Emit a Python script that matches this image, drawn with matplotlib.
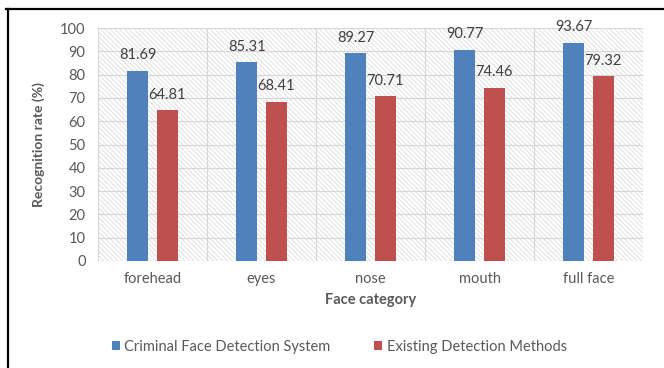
import matplotlib
matplotlib.use("Agg")
import matplotlib.pyplot as plt
from matplotlib.patches import Rectangle
from matplotlib.lines import Line2D
import numpy as np

categories = ["forehead", "eyes", "nose", "mouth", "full face"]
criminal_face = [81.69, 85.31, 89.27, 90.77, 93.67]
existing_methods = [64.81, 68.41, 70.71, 74.46, 79.32]
series_names = ["Criminal Face Detection System", "Existing Detection Methods"]
y_ticks = [0, 10, 20, 30, 40, 50, 60, 70, 80, 90, 100]

BLUE = "#4F81BD"
RED = "#C0504D"
GRID = "#d6d6d6"
HATCH = "#dcdcdc"
TICK_TXT = "#595959"
VAL_TXT = "#404040"

plt.rcParams["font.family"] = ["Lato", "DejaVu Sans"]
plt.rcParams["hatch.linewidth"] = 0.6

fig = plt.figure(figsize=(6.64, 3.68), dpi=100)
ax = fig.add_axes([98 / 664, 1 - 261 / 368, (643 - 98) / 664, (261 - 28) / 368])

# hatched plot-area background
ax.add_patch(Rectangle((0, 0), 1, 1, transform=ax.transAxes, facecolor="white",
                       edgecolor=HATCH, hatch="\\" * 7, linewidth=0, zorder=0))

x = np.arange(len(categories))
w = 0.19
off = 0.135
b1 = ax.bar(x - off, criminal_face, w, color=BLUE, zorder=3, label=series_names[0])
b2 = ax.bar(x + off, existing_methods, w, color=RED, zorder=3, label=series_names[1])

for bars, vals in ((b1, criminal_face), (b2, existing_methods)):
    for rect, v in zip(bars, vals):
        ax.annotate(f"{v:.2f}", (rect.get_x() + rect.get_width() / 2, v),
                    xytext=(0, 8.2), textcoords="offset points",
                    ha="center", va="baseline", fontsize=10.5, color=VAL_TXT, zorder=4)

ax.set_xlim(-0.5, len(categories) - 0.5)
ax.set_ylim(0, 100)
ax.set_yticks(y_ticks)
ax.set_xticks(x)
ax.set_xticklabels(categories)

# grid: horizontal every 10, vertical at category boundaries
for yv in y_ticks:
    ax.axhline(yv, color=GRID, lw=0.8, zorder=1)
for xb in np.arange(-0.5, len(categories), 1.0):
    ax.axvline(xb, color=GRID, lw=0.8, zorder=1)

for s in ax.spines.values():
    s.set_visible(False)
ax.tick_params(axis="both", length=0, labelsize=10.5, labelcolor=TICK_TXT)
ax.tick_params(axis="x", pad=8)
ax.tick_params(axis="y", pad=9)

ax.set_xlabel("Face category", fontsize=10.5, fontweight="bold", color=TICK_TXT, labelpad=5)
ax.set_ylabel("Recognition rate (%)", fontsize=10, fontweight="bold", color=TICK_TXT, labelpad=11)

fig.legend(handles=[b1, b2], labels=series_names, loc="center",
           bbox_to_anchor=(339.5 / 664, 1 - 347 / 368), ncol=2, frameon=False,
           fontsize=10.5, labelcolor=TICK_TXT, handlelength=0.55, handleheight=0.55,
           handletextpad=0.3, columnspacing=3.0)

# outer frame
fig.add_artist(Line2D([6 / 664, 1], [1 - 8.5 / 368, 1 - 8.5 / 368], color="black", lw=1.6,
                      transform=fig.transFigure))
fig.add_artist(Line2D([7.5 / 664, 7.5 / 664], [0, 1 - 8.5 / 368], color="black", lw=1.6,
                      transform=fig.transFigure))

fig.savefig("out.png", dpi=100, facecolor="white")
